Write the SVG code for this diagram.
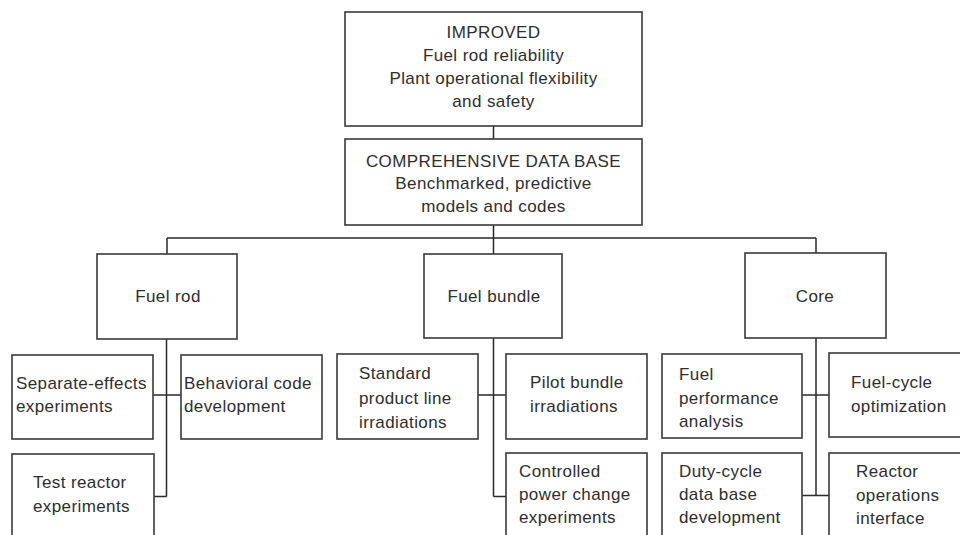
<svg xmlns="http://www.w3.org/2000/svg" width="960" height="535" viewBox="0 0 960 535">
<style>
.box{fill:#fff;stroke:#3a3a3a;stroke-width:1.6}
.ln{stroke:#2a2a2a;stroke-width:1.5;fill:none}
text{font-family:"Liberation Sans",Arial,sans-serif;font-size:17px;fill:#2e2e2e;letter-spacing:0.4px}
.c{text-anchor:middle}
</style>
<rect width="960" height="535" fill="#fff"/>
<g id="connectors">
<path class="ln" d="M493.5 126V139M493.5 225V254M167 238H816M167 238V254M816 238V253"/>
<path class="ln" d="M166.5 339V496.5M153 395H181M154 496.5H166.5"/>
<path class="ln" d="M493.5 338V496.5M478 395H506M493.5 496.5H506"/>
<path class="ln" d="M816 338V495.5M802 395H829M802 495.5H829"/>
</g>
<g id="improved">
<rect class="box" x="345" y="12" width="297" height="114"/>
<text class="c" x="493.5" y="38">IMPROVED</text>
<text class="c" x="493.5" y="61">Fuel rod reliability</text>
<text class="c" x="493.5" y="84">Plant operational flexibility</text>
<text class="c" x="493.5" y="107">and safety</text>
</g>
<g id="database">
<rect class="box" x="345" y="139" width="297" height="86"/>
<text class="c" x="493.5" y="167">COMPREHENSIVE DATA BASE</text>
<text class="c" x="493.5" y="189">Benchmarked, predictive</text>
<text class="c" x="493.5" y="212">models and codes</text>
</g>
<g id="fuel-rod">
<rect class="box" x="97" y="254" width="140" height="85"/>
<text class="c" x="168" y="302">Fuel rod</text>
</g>
<g id="fuel-bundle">
<rect class="box" x="424" y="254" width="138" height="84"/>
<text class="c" x="494" y="302">Fuel bundle</text>
</g>
<g id="core">
<rect class="box" x="745" y="253" width="141" height="85"/>
<text class="c" x="815" y="302">Core</text>
</g>
<g id="separate-effects">
<rect class="box" x="12" y="355" width="141" height="84"/>
<text x="16" y="389">Separate-effects</text>
<text x="16" y="412">experiments</text>
</g>
<g id="behavioral-code">
<rect class="box" x="181" y="355" width="141" height="84"/>
<text x="184" y="389">Behavioral code</text>
<text x="184" y="412">development</text>
</g>
<g id="test-reactor">
<rect class="box" x="12" y="454" width="142" height="90"/>
<text x="33" y="488">Test reactor</text>
<text x="33" y="512">experiments</text>
</g>
<g id="standard">
<rect class="box" x="337" y="354" width="141" height="85"/>
<text x="359" y="379">Standard</text>
<text x="359" y="404">product line</text>
<text x="359" y="428">irradiations</text>
</g>
<g id="pilot-bundle">
<rect class="box" x="506" y="354" width="141" height="85"/>
<text x="530" y="388">Pilot bundle</text>
<text x="530" y="412">irradiations</text>
</g>
<g id="controlled">
<rect class="box" x="506" y="453" width="141" height="90"/>
<text x="519" y="477">Controlled</text>
<text x="519" y="500">power change</text>
<text x="519" y="523">experiments</text>
</g>
<g id="fuel-performance">
<rect class="box" x="662" y="354" width="140" height="84"/>
<text x="679" y="380">Fuel</text>
<text x="679" y="404">performance</text>
<text x="679" y="427">analysis</text>
</g>
<g id="fuel-cycle">
<rect class="box" x="829" y="353" width="140" height="84"/>
<text x="851" y="388">Fuel-cycle</text>
<text x="851" y="412">optimization</text>
</g>
<g id="duty-cycle">
<rect class="box" x="662" y="453" width="140" height="90"/>
<text x="679" y="477">Duty-cycle</text>
<text x="679" y="500">data base</text>
<text x="679" y="523">development</text>
</g>
<g id="reactor-operations">
<rect class="box" x="829" y="453" width="140" height="90"/>
<text x="856" y="477">Reactor</text>
<text x="856" y="501">operations</text>
<text x="856" y="524">interface</text>
</g>
</svg>
